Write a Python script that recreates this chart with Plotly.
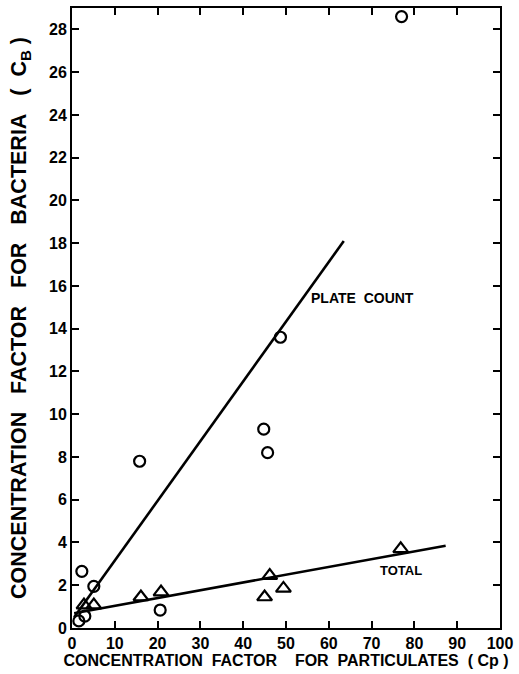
import plotly.graph_objects as go

# Plate count (circles)
pc_x = [77, 48.7, 44.8, 45.7, 15.8, 2.3, 5.1, 20.6, 3.0, 1.6]
pc_y = [28.6, 13.6, 9.3, 8.2, 7.8, 2.65, 1.95, 0.84, 0.56, 0.33]
# Total (triangles)
tot_x = [76.8, 46.2, 45.0, 49.4, 20.8, 16.1, 5.1, 2.8]
tot_y = [3.7, 2.45, 1.45, 1.85, 1.68, 1.45, 1.07, 1.07]
# Fit lines (endpoints)
pc_line_x = [0.5, 63.5]
pc_line_y = [0.5, 18.1]
tot_line_x = [0.5, 87.3]
tot_line_y = [0.69, 3.85]

x_ticks = list(range(0, 101, 10))
y_ticks = list(range(0, 29, 2))

FONT = "Liberation Sans"
N = "\u00a0"
fig = go.Figure()
fig.add_trace(go.Scatter(x=pc_line_x, y=pc_line_y, mode="lines",
                         line=dict(color="black", width=2.6), showlegend=False))
fig.add_trace(go.Scatter(x=tot_line_x, y=tot_line_y, mode="lines",
                         line=dict(color="black", width=2.6), showlegend=False))
fig.add_trace(go.Scatter(x=pc_x, y=pc_y, mode="markers",
                         marker=dict(symbol="circle-open", size=11, color="black",
                                     line=dict(width=2.2, color="black")),
                         showlegend=False))
fig.add_trace(go.Scatter(x=tot_x, y=tot_y, mode="markers",
                         marker=dict(symbol="triangle-up-open", size=13, color="black",
                                     line=dict(width=2.2, color="black")),
                         showlegend=False))

fig.add_annotation(x=55.4, y=15.45, xanchor="left", yanchor="middle",
                   text="PLATE" + N * 2 + "COUNT", showarrow=False,
                   font=dict(family=FONT, size=14, color="black", weight="bold"))
fig.add_annotation(x=76.9, y=2.7, xanchor="center", yanchor="middle",
                   text="TOTAL", showarrow=False,
                   font=dict(family=FONT, size=13, color="black", weight="bold"))

x_title = "CONCENTRATION" + N * 2 + "FACTOR" + N * 4 + "FOR" + N * 2 + "PARTICULATES" + N * 2 + "(" + N + "Cp" + N + ")"
y_title = "CONCENTRATION" + N * 3 + "FACTOR" + N * 3 + "FOR" + N * 3 + "BACTERIA" + N * 3 + "(" + N * 2 + "C<sub>B</sub>" + N + ")"

fig.update_layout(
    width=519, height=674,
    margin=dict(l=72, r=14, t=6, b=46),
    paper_bgcolor="white", plot_bgcolor="white",
    font=dict(family=FONT, color="black"),
    xaxis=dict(range=[0, 100], tickvals=x_ticks, ticktext=[str(v) for v in x_ticks],
               ticks="inside", ticklen=7, tickwidth=1.5, tickcolor="black",
               showline=True, linewidth=2, linecolor="black", mirror="ticks",
               showgrid=False, zeroline=False,
               tickfont=dict(family=FONT, size=16, weight="bold"),
               title=dict(text=x_title,
                          font=dict(family=FONT, size=16, weight="bold"), standoff=3)),
    yaxis=dict(range=[0, 29], tickvals=y_ticks, ticktext=[str(v) for v in y_ticks],
               ticks="inside", ticklen=7, tickwidth=1.5, tickcolor="black",
               showline=True, linewidth=2, linecolor="black", mirror="ticks",
               showgrid=False, zeroline=False,
               tickfont=dict(family=FONT, size=16, weight="bold"),
               title=dict(text=y_title,
                          font=dict(family=FONT, size=21.5, weight="bold"), standoff=16)),
)
fig.write_html("out.html")
